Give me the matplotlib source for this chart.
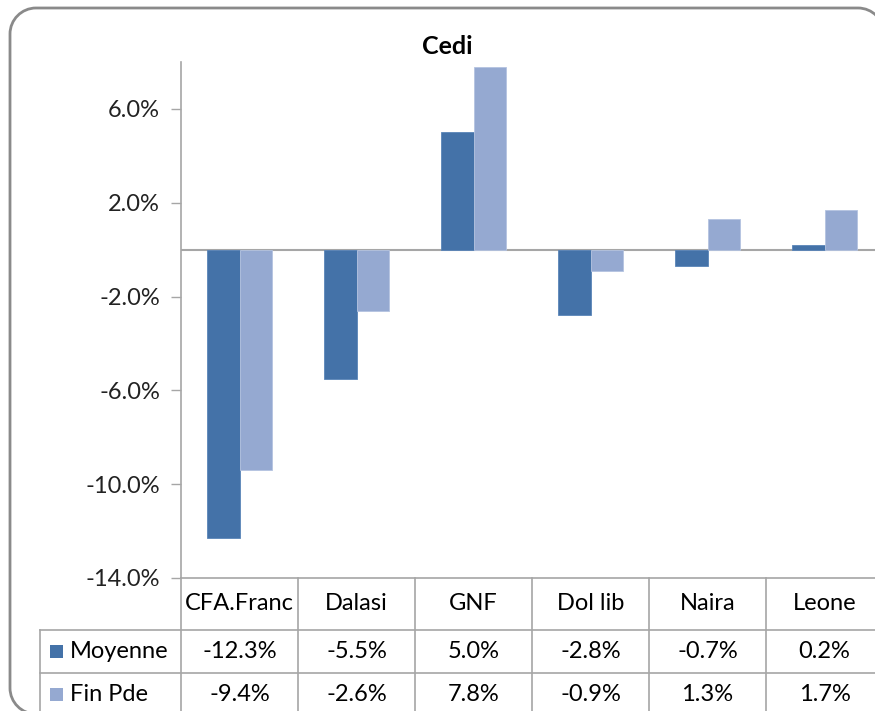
import numpy as np
import matplotlib.pyplot as plt
from matplotlib.patches import PathPatch, Rectangle
from matplotlib.path import Path
from matplotlib.lines import Line2D
from matplotlib.transforms import blended_transform_factory, Affine2D

categories = ["CFA.Franc", "Dalasi", "GNF", "Dol lib", "Naira", "Leone"]
moyenne = [-12.3, -5.5, 5.0, -2.8, -0.7, 0.2]
fin_pde = [-9.4, -2.6, 7.8, -0.9, 1.3, 1.7]
series_names = ["Moyenne", "Fin Pde"]
yticks = [-14, -10, -6, -2, 2, 6]

c_dark = "#4472A8"
c_light = "#95A9D1"
grid_c = "#A6A6A6"

plt.rcParams['font.family'] = ['Lato', 'DejaVu Sans']
FS = 17

W, H = 875, 711
fig = plt.figure(figsize=(W / 100, H / 100), dpi=100)

def fx(px):
    return px / W

def fy(py):
    return 1 - py / H

# chart frame: rounded corners, right and bottom sides fall outside the picture
pix = Affine2D().scale(1 / W, -1 / H).translate(0, 1) + fig.transFigure
L, T, R, B, rad = 10, 8, 884, 714, 26
k = 0.5523 * rad
verts = [(L + rad, B), (L + rad - k, B), (L, B - rad + k), (L, B - rad),
         (L, T + rad), (L, T + rad - k), (L + rad - k, T), (L + rad, T),
         (R - rad, T), (R - rad + k, T), (R, T + rad - k), (R, T + rad),
         (R, B - rad)]
codes = [Path.MOVETO, Path.CURVE4, Path.CURVE4, Path.CURVE4,
         Path.LINETO, Path.CURVE4, Path.CURVE4, Path.CURVE4,
         Path.LINETO, Path.CURVE4, Path.CURVE4, Path.CURVE4,
         Path.LINETO]
frame = PathPatch(Path(verts, codes), transform=pix, fill=False,
                  edgecolor="#8A8A8A", linewidth=2)
fig.patches.append(frame)

ax_left, ax_right, ax_top, ax_bot = 181, 883, 62, 578
ax = fig.add_axes([fx(ax_left), fy(ax_bot), (ax_right - ax_left) / W, (ax_bot - ax_top) / H])

x = np.arange(len(categories))
bw = 0.28
ax.bar(x - bw / 2, moyenne, bw, color=c_dark, edgecolor="#5A85B8", linewidth=0.6, zorder=3)
ax.bar(x + bw / 2, fin_pde, bw, color=c_light, edgecolor="#B4C3E0", linewidth=0.6, zorder=3)
ax.axhline(0, color=grid_c, linewidth=1.5, zorder=2)

ax.set_xlim(-0.5, len(categories) - 0.5)
ax.set_ylim(-14, 8)
ax.set_yticks(yticks)
ax.set_yticklabels([f"{v:.1f}%" for v in yticks], fontsize=FS, color="#222222")
ax.set_xticks([])
ax.tick_params(axis="y", direction="out", length=7, width=1, color=grid_c, pad=8)
for s in ["top", "right"]:
    ax.spines[s].set_visible(False)
for s in ["left", "bottom"]:
    ax.spines[s].set_color(grid_c)
    ax.spines[s].set_linewidth(1.2)

fig.text(fx(447), fy(47), "Cedi", ha="center", va="center", fontsize=18, fontweight="bold")

# data table below the axes
tb = blended_transform_factory(ax.transData, fig.transFigure)
row_y = [578, 630, 673, 716]
tl = dict(color=grid_c, linewidth=1.2, clip_on=False)
for i in range(len(categories) + 1):
    fig.add_artist(Line2D([i - 0.5, i - 0.5], [fy(row_y[0]), fy(row_y[-1])], transform=tb, **tl))
for ry in row_y[1:3]:
    fig.add_artist(Line2D([fx(40), 1.0], [fy(ry), fy(ry)], transform=fig.transFigure, **tl))
fig.add_artist(Line2D([fx(40), fx(40)], [fy(row_y[1]), fy(row_y[-1])], transform=fig.transFigure, **tl))

for i, c in enumerate(categories):
    fig.text(i, fy((row_y[0] + row_y[1]) / 2), c, transform=tb, ha="center", va="center", fontsize=FS)
for r, (name, vals, col) in enumerate(zip(series_names, [moyenne, fin_pde], [c_dark, c_light])):
    yc = fy((row_y[r + 1] + row_y[r + 2]) / 2)
    fig.add_artist(Rectangle((fx(50), yc - 6.5 / H), 13 / W, 13 / H, transform=fig.transFigure,
                             facecolor=col, edgecolor="none"))
    fig.text(fx(70), yc, name, ha="left", va="center", fontsize=FS)
    for i, v in enumerate(vals):
        fig.text(i, yc, f"{v:.1f}%", transform=tb, ha="center", va="center", fontsize=FS)

fig.savefig("out.png", dpi=100)
